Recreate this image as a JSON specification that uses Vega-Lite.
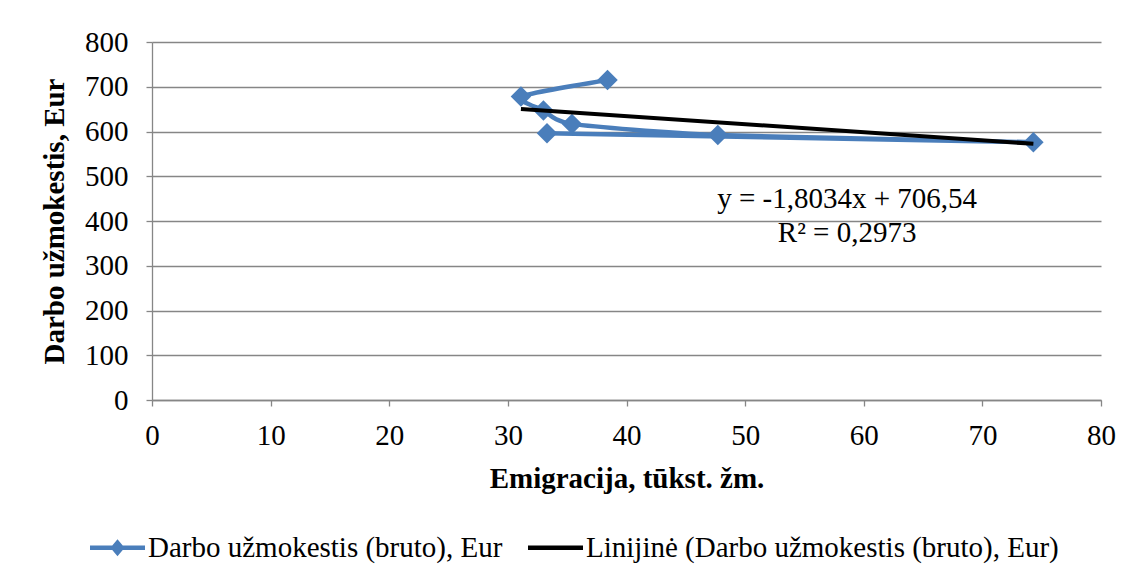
{
  "$schema": "https://vega.github.io/schema/vega-lite/v6.json",
  "width": 949,
  "height": 358,
  "autosize": "none",
  "padding": {"left": 152, "top": 42, "right": 32, "bottom": 182},
  "background": "white",
  "config": {
    "font": "Liberation Serif",
    "view": {"stroke": null},
    "axis": {
      "labelFont": "Liberation Serif",
      "labelFontSize": 29,
      "labelColor": "black",
      "titleFont": "Liberation Serif",
      "titleFontSize": 29,
      "titleFontWeight": "bold",
      "titleColor": "black",
      "domainColor": "#868686",
      "tickColor": "#868686",
      "gridColor": "#868686",
      "domainWidth": 1.3,
      "tickWidth": 1.3,
      "gridWidth": 1.3,
      "tickSize": 6
    }
  },
  "datasets": {
    "wage": [
      {"ord": 1, "emig": 33.3, "wage": 596, "series": "Darbo užmokestis (bruto), Eur"},
      {"ord": 2, "emig": 74.3, "wage": 576, "series": "Darbo užmokestis (bruto), Eur"},
      {"ord": 3, "emig": 47.7, "wage": 592, "series": "Darbo užmokestis (bruto), Eur"},
      {"ord": 4, "emig": 35.4, "wage": 617, "series": "Darbo užmokestis (bruto), Eur"},
      {"ord": 5, "emig": 33.0, "wage": 647, "series": "Darbo užmokestis (bruto), Eur"},
      {"ord": 6, "emig": 31.1, "wage": 678, "series": "Darbo užmokestis (bruto), Eur"},
      {"ord": 7, "emig": 38.4, "wage": 715, "series": "Darbo užmokestis (bruto), Eur"}
    ],
    "trend": [
      {"emig": 31.1, "wage": 650.5, "series": "Linijinė (Darbo užmokestis (bruto), Eur)"},
      {"emig": 74.3, "wage": 572.5, "series": "Linijinė (Darbo užmokestis (bruto), Eur)"}
    ],
    "notes": [
      {"emig": 58.6, "wage": 429, "label": "y = -1,8034x + 706,54"},
      {"emig": 58.6, "wage": 354, "label": "R² = 0,2973"}
    ]
  },
  "encoding": {
    "x": {
      "field": "emig", "type": "quantitative",
      "scale": {"domain": [0, 80], "nice": false, "zero": false},
      "axis": {"title": "Emigracija, tūkst. žm.", "values": [0,10,20,30,40,50,60,70,80], "grid": false, "labelPadding": 15, "titlePadding": 14, "labelFlush": false}
    },
    "y": {
      "field": "wage", "type": "quantitative",
      "scale": {"domain": [0, 800], "nice": false},
      "axis": {"title": "Darbo užmokestis, Eur", "values": [0,100,200,300,400,500,600,700,800], "grid": true, "labelPadding": 18, "titlePadding": 15, "labelFlush": false}
    }
  },
  "layer": [
    {
      "data": {"name": "wage"},
      "mark": {"type": "line", "interpolate": "cardinal", "tension": 0.35, "strokeWidth": 4.5},
      "encoding": {
        "order": {"field": "ord"},
        "color": {
          "field": "series", "type": "nominal",
          "scale": {"domain": ["Darbo užmokestis (bruto), Eur", "Linijinė (Darbo užmokestis (bruto), Eur)"], "range": ["#4A7EBB", "#000000"]},
          "legend": {
            "orient": "none", "legendX": -62, "legendY": 478, "direction": "horizontal",
            "title": null, "labelFont": "Liberation Serif", "labelFontSize": 29, "labelColor": "black",
            "labelLimit": 0,
            "symbolSize": 3025, "labelOffset": 3, "columnPadding": 25, "padding": 0,
            "encode": {
              "symbols": {
                "update": {
                  "shape": {"signal": "datum.value === 'Darbo užmokestis (bruto), Eur' ? 'M-1,-0.08L-0.19,-0.08L0,-0.31L0.19,-0.08L1,-0.08L1,0.08L0.19,0.08L0,0.31L-0.19,0.08L-1,0.08Z' : 'M-1,-0.08L1,-0.08L1,0.08L-1,0.08Z'"},
                  "fill": {"signal": "datum.value === 'Darbo užmokestis (bruto), Eur' ? '#4A7EBB' : '#000000'"},
                  "fillOpacity": {"value": 1},
                  "strokeWidth": {"value": 0}
                }
              }
            }
          }
        }
      }
    },
    {
      "data": {"name": "wage"},
      "mark": {"type": "point", "shape": "diamond", "filled": true, "size": 420, "opacity": 1},
      "encoding": {
        "color": {"field": "series", "type": "nominal"}
      }
    },
    {
      "data": {"name": "trend"},
      "mark": {"type": "line", "strokeWidth": 4},
      "encoding": {
        "color": {"field": "series", "type": "nominal"}
      }
    },
    {
      "data": {"name": "notes"},
      "mark": {"type": "text", "font": "Liberation Serif", "fontSize": 29, "color": "black", "align": "center", "baseline": "alphabetic"},
      "encoding": {
        "text": {"field": "label"}
      }
    }
  ]
}
